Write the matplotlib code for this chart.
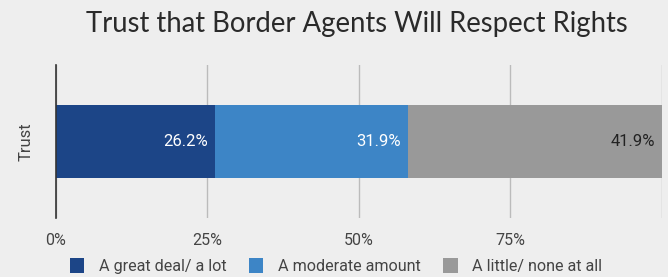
import matplotlib.pyplot as plt
from matplotlib.patches import Patch

category = ['Trust']
labels = ['A great deal/ a lot', 'A moderate amount', 'A little/ none at all']
values = [26.2, 31.9, 41.9]
colors = ['#1c4587', '#3d85c6', '#999999']
text_colors = ['white', 'white', '#222222']
ticks = [0, 25, 50, 75]
tick_labels = ['0%', '25%', '50%', '75%']

bg = '#eeeeee'
fig = plt.figure(figsize=(6.68, 2.77), dpi=100, facecolor=bg)
ax = fig.add_axes([0.0838, 0.213, 0.9065, 0.552], facecolor=bg)

left = 0
for v, c, tc in zip(values, colors, text_colors):
    ax.barh(0, v, left=left, height=0.48, color=c, edgecolor='none', zorder=2)
    ax.text(left + v - 1.1, 0, f'{v}%', ha='right', va='center', color=tc,
            fontsize=12, family='Roboto', zorder=3)
    left += v

ax.set_xlim(0, 100)
ax.set_ylim(-0.5, 0.5)
ax.set_xticks(ticks + [100])
ax.set_xticklabels(tick_labels + [''], fontsize=11.5, family='Roboto', color='#444444')
ax.tick_params(axis='x', length=0, pad=11)
ax.set_yticks([])
ax.grid(axis='x', color='#bbbbbb', linewidth=1, zorder=1)
for s in ['top', 'right', 'bottom']:
    ax.spines[s].set_visible(False)
ax.spines['left'].set_color('#333333')
ax.spines['left'].set_linewidth(1.2)
ax.spines['left'].set_zorder(4)
ax.set_ylabel(category[0], fontsize=12, family='Roboto', color='#444444', labelpad=16)

fig.text(0.534, 0.912, 'Trust that Border Agents Will Respect Rights', ha='center', va='center',
         fontsize=19.8, family='Lato', color='#2a2a2a')

handles = [Patch(facecolor=c, edgecolor='none') for c in colors]
fig.legend(handles, labels, loc='center', bbox_to_anchor=(0.503, 0.04), ncol=3, frameon=False,
           prop={'family': 'Roboto', 'size': 11.6}, labelcolor='#444444',
           handlelength=0.9, handleheight=1.1, handletextpad=0.9, columnspacing=1.4)

fig.savefig('out.png', dpi=100, facecolor=bg)
